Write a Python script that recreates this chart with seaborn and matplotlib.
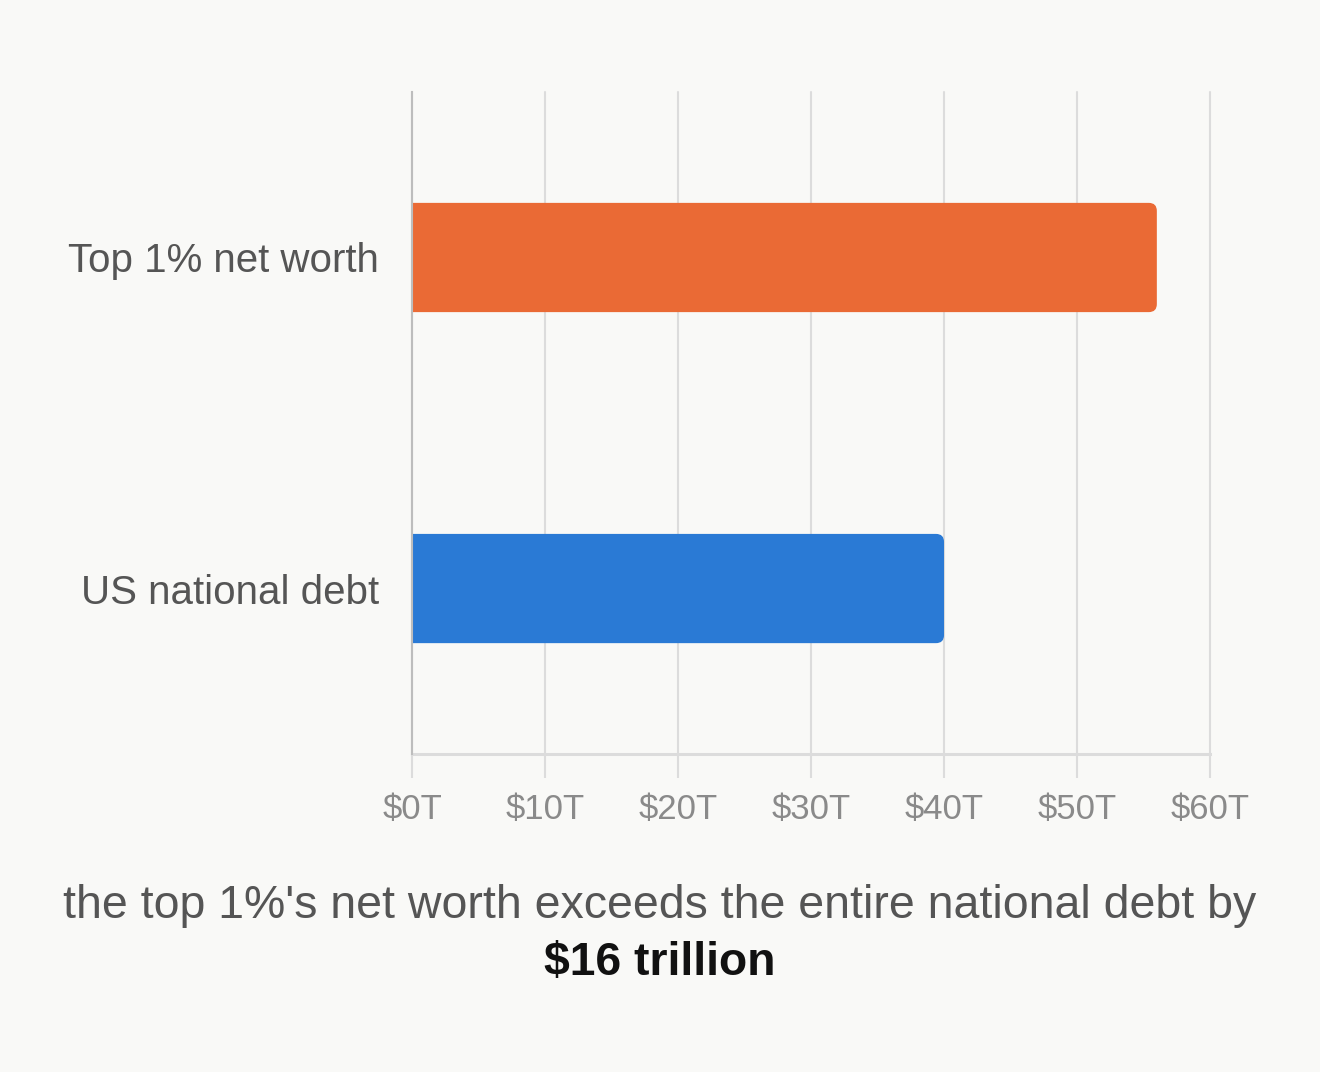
import matplotlib
matplotlib.use('Agg')
import matplotlib.pyplot as plt
import matplotlib.ticker as ticker
from matplotlib.patches import FancyBboxPatch
import seaborn as sns
import pandas as pd

categories = ['Top 1% net worth', 'US national debt']
values = [56, 40]
bar_colors = ['#EA6A35', '#2A7AD5']
tick_values = [0, 10, 20, 30, 40, 50, 60]

bg = '#F9F9F7'
sns.set_theme(style='white')
plt.rcParams['font.family'] = ['Liberation Sans', 'DejaVu Sans']

df = pd.DataFrame({'Category': categories, 'Value': values})

fig = plt.figure(figsize=(13.2, 10.72), dpi=100, facecolor=bg)
ax = fig.add_axes([0.3121, 0.2966, 0.6046, 0.6176], facecolor=bg)

sns.barplot(data=df, x='Value', y='Category', hue='Category', palette=bar_colors,
            saturation=1, legend=False, width=0.33, ax=ax, zorder=3)

ax.set_xlim(0, 60)
ax.set_ylim(1.5, -0.5)

# swap the plain bars for ones with rounded right corners
px_x = 60 / (0.6046 * 1320)
px_y = 2 / (0.6176 * 1072)
r = 8 * px_x
for p in list(ax.patches):
    x0, y0, w, h = p.get_x(), p.get_y(), p.get_width(), p.get_height()
    fc = p.get_facecolor()
    p.remove()
    ax.add_patch(FancyBboxPatch((x0 - 2 * r, y0), w + 2 * r, h,
                                boxstyle=f'round,pad=0,rounding_size={r}',
                                mutation_aspect=px_y / px_x,
                                facecolor=fc, edgecolor='none', zorder=3))

ax.xaxis.set_major_locator(ticker.FixedLocator(tick_values))
ax.xaxis.set_major_formatter(ticker.FuncFormatter(lambda v, _: f'${v:.0f}T'))
ax.grid(axis='x', color='#DCDCDC', linewidth=1.5, zorder=0)
ax.grid(axis='y', visible=False)
for gl in ax.get_xgridlines():
    gl.set_clip_on(False)

ax.tick_params(axis='x', length=17, width=1.5, color='#DCDCDC', pad=11,
               labelsize=25, labelcolor='#8A8A8A', bottom=True)
ax.tick_params(axis='y', length=0, pad=24, labelsize=29, labelcolor='#555555')
ax.set_xlabel('')
ax.set_ylabel('')

for s in ['top', 'right']:
    ax.spines[s].set_visible(False)
ax.spines['left'].set_color('#BDBDBD')
ax.spines['left'].set_linewidth(1.5)
ax.spines['left'].set_zorder(4)
ax.spines['bottom'].set_color('#DCDCDC')
ax.spines['bottom'].set_linewidth(2.2)

fig.text(0.5, 1 - 906 / 1072, "the top 1%'s net worth exceeds the entire national debt by",
         ha='center', va='center', fontsize=33.5, color='#555555')
fig.text(0.5, 1 - 963 / 1072, '$16 trillion', ha='center', va='center',
         fontsize=33.3, fontweight='bold', color='#111111')

fig.savefig('out.png', dpi=100, facecolor=bg)
